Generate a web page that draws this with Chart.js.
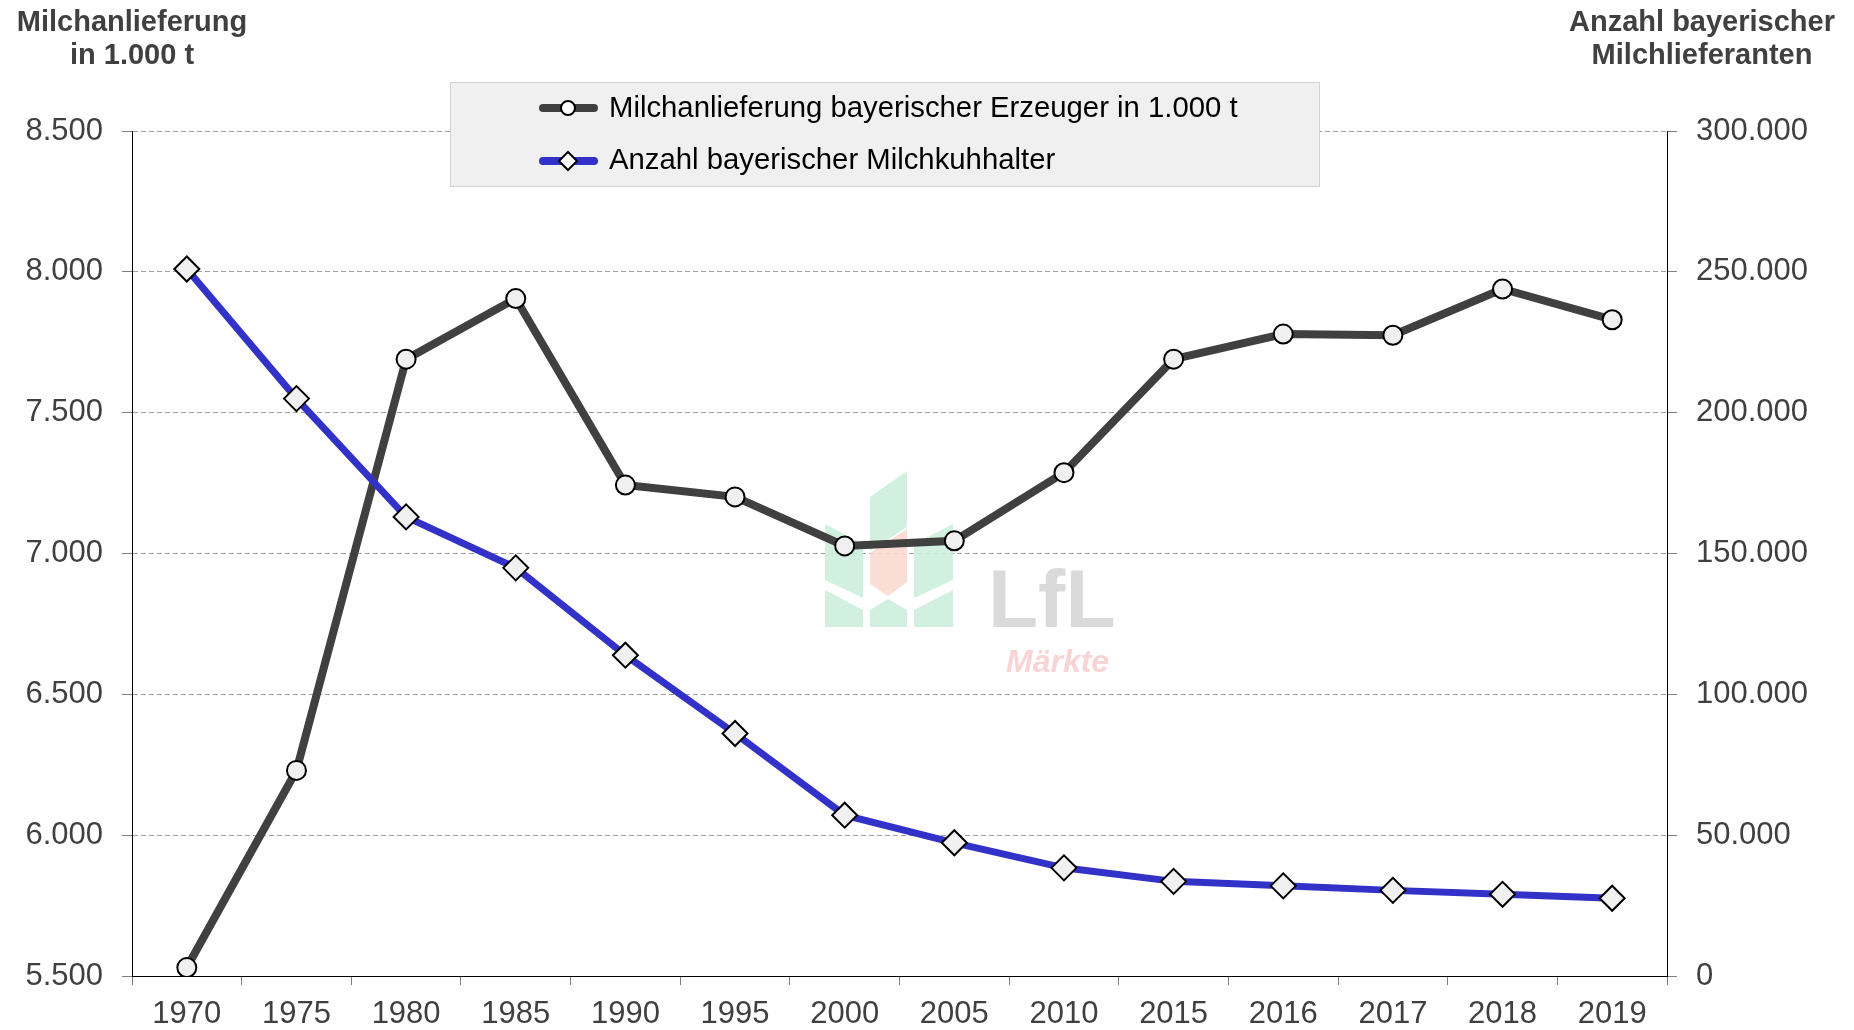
<!DOCTYPE html>
<html>
<head>
<meta charset="utf-8">
<script src="https://cdn.jsdelivr.net/npm/chart.js@4/dist/chart.umd.min.js"></script>
<style>
html, body { margin: 0; padding: 0; background: #fff; }
canvas { display: block; }
</style>
</head>
<body>
<canvas id="myChart" width="1854" height="1030"></canvas>
<script>
// Werte
const years = ['1970', '1975', '1980', '1985', '1990', '1995', '2000', '2005', '2010', '2015', '2016', '2017', '2018', '2019'];
const milk = [5530, 6230, 7690, 7905, 7243, 7201, 7027, 7045, 7287, 7690, 7779, 7775, 7939, 7830];
const farms = [251000, 205000, 163000, 144900, 113900, 86100, 57100, 47300, 38400, 33600, 32000, 30400, 29000, 27600];

const milkLabel = 'Milchanlieferung bayerischer Erzeuger in 1.000 t';
const farmLabel = 'Anzahl bayerischer Milchkuhhalter';
const leftTitle = ['Milchanlieferung', 'in 1.000 t'];
const rightTitle = ['Anzahl bayerischer', 'Milchlieferanten'];
const leftRange = [5500, 8500, 500];
const rightRange = [0, 300000, 50000];

const FONT = '"Liberation Sans", Arial, sans-serif';
const GREY = '#404040';

function fmt(v) {
    return String(v).replace(/\B(?=(\d{3})+(?!\d))/g, '.');
}

// Wasserzeichen (LfL Logo) hinter den Linien
const watermark = {
    id: 'watermark',
    beforeDatasetsDraw(chart) {
        const ctx = chart.ctx;
        ctx.save();
        ctx.globalAlpha = 0.9;
        const green = '#cdeedd';
        const red = '#f9d9cf';
        const shapes = [
            [green, [[870, 497], [907, 471], [907, 527], [870, 551]]],
            [red, [[870, 553], [907, 529], [907, 582], [888, 596], [870, 584]]],
            [green, [[825, 524], [863, 544], [863, 598], [825, 580]]],
            [green, [[914, 544], [953, 524], [953, 580], [914, 598]]],
            [green, [[825, 590], [863, 610], [863, 627], [825, 627]]],
            [green, [[870, 610], [888, 599], [907, 610], [907, 627], [870, 627]]],
            [green, [[914, 610], [953, 590], [953, 627], [914, 627]]]
        ];
        shapes.forEach(([col, pts]) => {
            ctx.fillStyle = col;
            ctx.beginPath();
            ctx.moveTo(pts[0][0], pts[0][1]);
            for (let i = 1; i < pts.length; i++) ctx.lineTo(pts[i][0], pts[i][1]);
            ctx.closePath();
            ctx.fill();
        });
        ctx.fillStyle = '#d6d6d6';
        ctx.font = 'bold 82px ' + FONT;
        ctx.textBaseline = 'alphabetic';
        ctx.textAlign = 'left';
        ctx.fillText('LfL', 988, 627);
        ctx.fillStyle = '#f7cfcf';
        ctx.font = 'italic bold 32px ' + FONT;
        ctx.fillText('Märkte', 1006, 672);
        ctx.restore();
    }
};

// Achsentitel und Legende
const extras = {
    id: 'extras',
    afterDraw(chart) {
        const ctx = chart.ctx;
        ctx.save();
        ctx.fillStyle = GREY;
        ctx.font = 'bold 29px ' + FONT;
        ctx.textAlign = 'center';
        ctx.textBaseline = 'alphabetic';
        ctx.fillText(leftTitle[0], 132, 31);
        ctx.fillText(leftTitle[1], 132, 64);
        ctx.fillText(rightTitle[0], 1702, 31);
        ctx.fillText(rightTitle[1], 1702, 64);

        // Legende
        ctx.fillStyle = '#f0f0f0';
        ctx.fillRect(450.5, 82.5, 869, 104);
        ctx.strokeStyle = '#d2d2d2';
        ctx.lineWidth = 1;
        ctx.strokeRect(450.5, 82.5, 869, 104);

        const rows = [
            { ds: chart.data.datasets[0], y: 108, base: 116.5 },
            { ds: chart.data.datasets[1], y: 161, base: 169 }
        ];
        rows.forEach(r => {
            ctx.strokeStyle = r.ds.borderColor;
            ctx.lineWidth = 8;
            ctx.lineCap = 'round';
            ctx.beginPath();
            ctx.moveTo(543, r.y);
            ctx.lineTo(594, r.y);
            ctx.stroke();
            ctx.lineCap = 'butt';
            ctx.fillStyle = '#ffffff';
            ctx.strokeStyle = '#000';
            ctx.lineWidth = 2;
            ctx.beginPath();
            if (r.ds.pointStyle === 'circle') {
                ctx.arc(568, r.y, 7, 0, Math.PI * 2);
            } else {
                ctx.moveTo(568 - 9, r.y);
                ctx.lineTo(568, r.y - 9);
                ctx.lineTo(568 + 9, r.y);
                ctx.lineTo(568, r.y + 9);
                ctx.closePath();
            }
            ctx.fill();
            ctx.stroke();
            ctx.fillStyle = '#000';
            ctx.font = '29.3px ' + FONT;
            ctx.textAlign = 'left';
            ctx.fillText(r.ds.label, 609, r.base);
        });
        ctx.restore();
    }
};

Chart.defaults.font.family = FONT;

const ctx = document.getElementById('myChart').getContext('2d');
const chart = new Chart(ctx, {
    type: 'line',
    data: {
        labels: years,
        datasets: [
            {
                label: milkLabel,
                data: milk,
                yAxisID: 'y',
                borderColor: '#404040',
                borderWidth: 8,
                pointStyle: 'circle',
                pointRadius: 9.5,
                pointBorderWidth: 2,
                pointBackgroundColor: '#f0f0f0',
                pointBorderColor: '#000',
                tension: 0,
                order: 1
            },
            {
                label: farmLabel,
                data: farms,
                yAxisID: 'y1',
                borderColor: '#3232c8',
                borderWidth: 7,
                pointStyle: 'rectRot',
                pointRadius: 12.5,
                pointBorderWidth: 2,
                pointBackgroundColor: '#f0f0f0',
                pointBorderColor: '#000',
                tension: 0,
                order: 0
            }
        ]
    },
    options: {
        responsive: false,
        animation: false,
        devicePixelRatio: 1,
        layout: { padding: { top: 131, left: 0, right: 0, bottom: 0 } },
        plugins: {
            legend: { display: false },
            tooltip: { enabled: false }
        },
        scales: {
            x: {
                offset: true,
                grid: { offset: true, drawOnChartArea: false, tickColor: '#808080', tickLength: 9 },
                border: { color: '#000', width: 1 },
                ticks: { color: GREY, font: { size: 31 }, padding: 11, maxRotation: 0, autoSkip: false },
                afterFit(s) { s.height = 54; }
            },
            y: {
                position: 'left',
                min: leftRange[0],
                max: leftRange[1],
                ticks: {
                    stepSize: leftRange[2],
                    color: GREY,
                    font: { size: 31 },
                    padding: 19,
                    callback: v => fmt(v)
                },
                grid: {
                    color: c => (c.tick && c.tick.value === leftRange[0]) ? 'rgba(0,0,0,0)' : '#a0a0a0',
                    tickColor: '#808080',
                    tickLength: 10,
                    lineWidth: 1
                },
                border: { color: '#000', width: 1, dash: [5, 3] },
                afterFit(s) { s.width = 132; }
            },
            y1: {
                position: 'right',
                min: rightRange[0],
                max: rightRange[1],
                ticks: {
                    stepSize: rightRange[2],
                    color: GREY,
                    font: { size: 31 },
                    padding: 19,
                    callback: v => fmt(v)
                },
                grid: { drawOnChartArea: false, tickColor: '#808080', tickLength: 10 },
                border: { color: '#000', width: 1 },
                afterFit(s) { s.width = 187; }
            }
        }
    },
    plugins: [watermark, extras]
});
</script>
</body>
</html>
